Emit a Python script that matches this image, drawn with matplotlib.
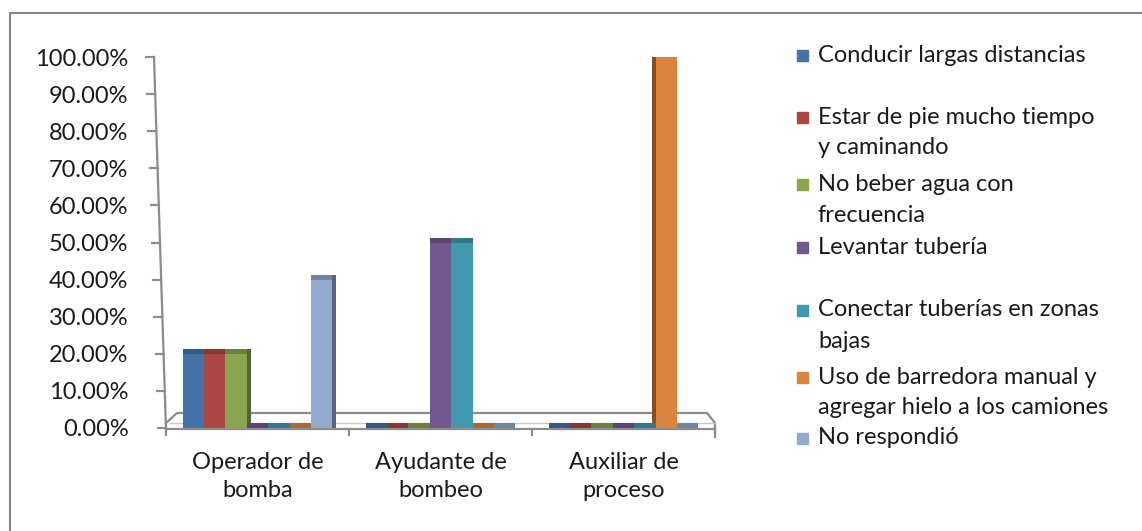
import numpy as np
import matplotlib
matplotlib.use("Agg")
import matplotlib.pyplot as plt
from matplotlib.patches import Rectangle
from matplotlib.colors import to_rgb

plt.rcParams['font.family'] = ['Lato', 'DejaVu Sans']

# data
categories = ['Operador de\nbomba', 'Ayudante de\nbombeo', 'Auxiliar de\nproceso']
series = ['Conducir largas distancias',
          'Estar de pie mucho tiempo\ny caminando',
          'No beber agua con\nfrecuencia',
          'Levantar tubería',
          'Conectar tuberías en zonas\nbajas',
          'Uso de barredora manual y\nagregar hielo a los camiones',
          'No respondió']
values = [
    [0.20, 0.00, 0.00],   # Conducir largas distancias
    [0.20, 0.00, 0.00],   # Estar de pie
    [0.20, 0.00, 0.00],   # No beber agua
    [0.00, 0.50, 0.00],   # Levantar tubería
    [0.00, 0.50, 0.00],   # Conectar tuberías
    [0.00, 0.00, 1.00],   # Uso de barredora
    [0.40, 0.00, 0.00],   # No respondió
]
yticks = np.arange(0, 1.01, 0.1)
ytick_labels = [f'{t * 100:.2f}%' for t in yticks]

colors = ['#4572A7', '#AA4643', '#89A54E', '#71588F', '#4198AF', '#DB843D', '#93A9CF']

W, H = 1142, 531
fig = plt.figure(figsize=(W / 100, H / 100), dpi=100)

# pixel helpers for figure-space placement
def fx(px):
    return px / W

def fy(py):
    return 1 - py / H

ax = fig.add_axes([fx(166), fy(428), (715 - 166) / W, (428 - 57) / H])
ax.set_xlim(-0.5, 2.5)
ax.set_ylim(0, 1)
for s in ax.spines.values():
    s.set_visible(False)

px_x = 3 / 549      # one pixel in x data units
px_y = 1 / 371      # one pixel in y data units
grey = '#8C8C8C'
txt = '#1A1A1A'
fs = 17

# floor slab
floor_back = 15 * px_y
floor_front = 5 * px_y
ax.plot([-0.5, -0.5 + 11 * px_x, 2.5 - 8 * px_x, 2.5, 2.5],
        [floor_front, floor_back, floor_back, floor_front, -9 * px_y],
        color=grey, lw=1.6, clip_on=False, zorder=1)
ax.plot([-0.5 + 4 * px_x, 2.5], [floor_front, floor_front], color='#C8C8C8', lw=1.0,
        clip_on=False, zorder=1)
ax.plot([-0.5, 2.5], [-1 * px_y, -1 * px_y], color=grey, lw=1.6, clip_on=False, zorder=1)
for xs in [-0.5, 0.5, 1.5, 2.5]:
    ax.plot([xs, xs], [-1 * px_y, -7 * px_y], color=grey, lw=1.6, clip_on=False, zorder=1)

# slanted back wall edge with ticks
def wall_x(y):
    return -0.5 - 12 * px_x * y

ax.plot([wall_x(0), wall_x(1.0)], [-1 * px_y, 1.0], color=grey, lw=1.6, clip_on=False, zorder=1)
for t in yticks:
    ax.plot([wall_x(t) - 8 * px_x, wall_x(t)], [t, t], color=grey, lw=1.6, clip_on=False, zorder=1)

ax.set_yticks(yticks)
ax.set_yticklabels(ytick_labels, fontsize=fs, color=txt)
ax.tick_params(axis='y', length=0, pad=27)
ax.set_xticks(range(len(categories)))
ax.set_xticklabels(categories, fontsize=fs, color=txt, linespacing=1.45)
ax.tick_params(axis='x', length=0, pad=17)

# bars with a darker top face and a side face
n = len(series)
bw = 0.117
offsets = (np.arange(n) - (n - 1) / 2) * bw
cap = 5 * px_y
side = 4 * px_x


def shade(c, k):
    r, g, b = to_rgb(c)
    return (r * k, g * k, b * k)


x = np.arange(len(categories))
for i in range(n):
    v = np.array(values[i])
    for j in range(len(categories)):
        if v[j] <= 0:
            continue
        if j == 0:
            sx = x[j] + offsets[i] + bw / 2
        elif j == 2:
            sx = x[j] + offsets[i] - bw / 2 - side
        else:
            continue
        ax.bar(sx, v[j] + cap, width=side, align='edge', color=shade(colors[i], 0.6),
               zorder=2, linewidth=0)
for i in range(n):
    v = np.array(values[i])
    ax.bar(x + offsets[i], v, width=bw, color=colors[i], zorder=3, linewidth=0)
    ax.bar(x + offsets[i], cap, width=bw, bottom=v, color=shade(colors[i], 0.78),
           zorder=3, linewidth=0)

# legend
legend_y = [55, 117, 184, 247, 310, 377, 438]
for i, label in enumerate(series):
    yc = legend_y[i]
    fig.patches.append(Rectangle((fx(797), fy(yc + 6)), 11 / W, 11 / H,
                                 transform=fig.transFigure, color=colors[i]))
    for k, line in enumerate(label.split('\n')):
        fig.text(fx(818), fy(yc + 31 * k), line, fontsize=fs, color=txt,
                 va='center', ha='left')

# chart border
fig.patches.append(Rectangle((fx(10), -0.1), 2, fy(13) + 0.1, transform=fig.transFigure,
                             fill=False, edgecolor='#868686', lw=1.5))

fig.savefig('out.png', dpi=100)
